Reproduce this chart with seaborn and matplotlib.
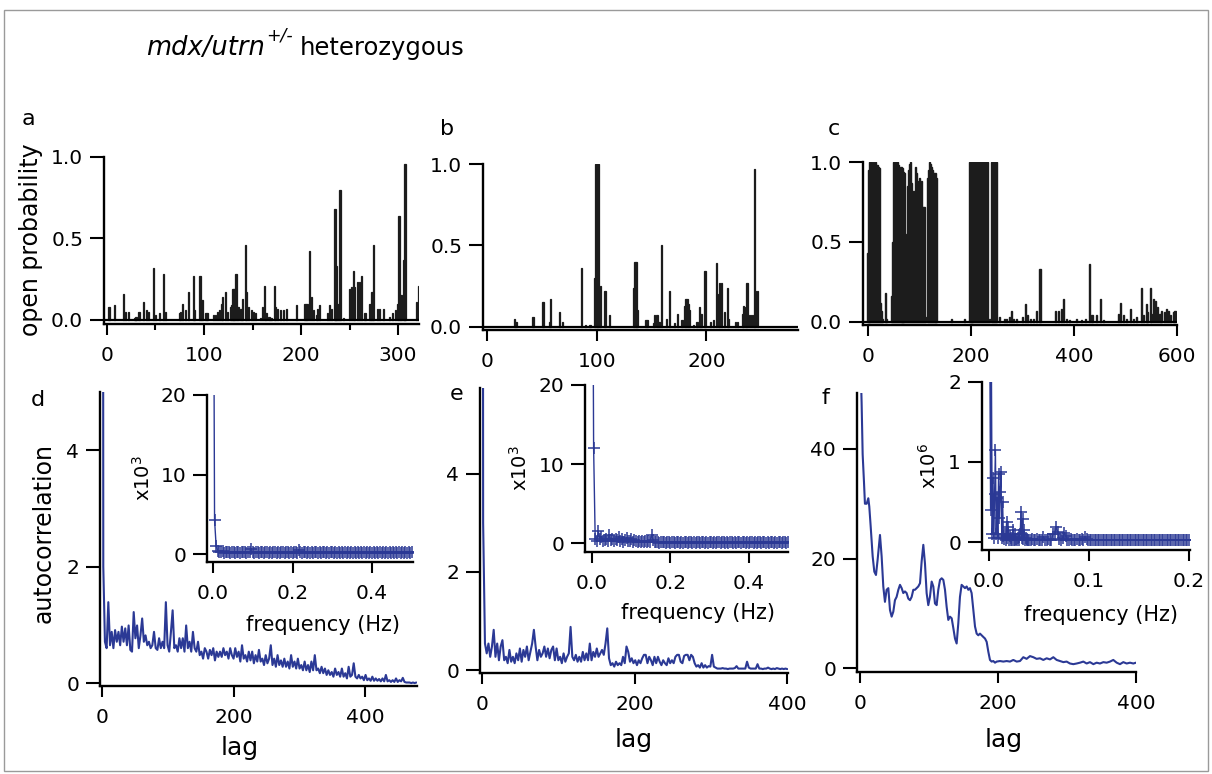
import numpy as np
import matplotlib
matplotlib.use("Agg")
import matplotlib.pyplot as plt
from matplotlib.patches import Rectangle
import seaborn as sns

# ---------------- data ----------------
# panel a: open probability per time bin
a_time = [2, 3, 8, 17, 19, 22, 29, 30, 33, 38, 41, 43, 48, 50, 54, 58, 60, 75, 76, 78, 81, 84, 89, 90,
          96, 98, 102, 104, 110, 112, 114, 116, 118, 119, 122, 124, 127, 128, 130, 131, 133, 135, 138,
          140, 143, 144, 146, 149, 151, 153, 158, 160, 162, 164, 167, 169, 173, 174, 176, 179, 182, 185,
          195, 204, 206, 209, 211, 213, 216, 217, 219, 227, 229, 231, 235, 236, 238, 240, 244, 250, 252,
          254, 255, 258, 260, 262, 266, 271, 273, 275, 279, 281, 285, 291, 294, 297, 299, 301, 303, 306,
          307, 319, 321]
a_po = [0.08, 0.08, 0.09, 0.16, 0.05, 0.05, 0.01, 0.02, 0.05, 0.11, 0.06, 0.05, 0.32, 0.03, 0.04, 0.28,
        0.05, 0.04, 0.05, 0.10, 0.06, 0.17, 0.27, 0.06, 0.27, 0.12, 0.04, 0.04, 0.03, 0.03, 0.05, 0.06,
        0.10, 0.14, 0.17, 0.05, 0.08, 0.09, 0.19, 0.19, 0.28, 0.08, 0.07, 0.13, 0.46, 0.17, 0.08, 0.06,
        0.05, 0.04, 0.01, 0.08, 0.21, 0.04, 0.02, 0.01, 0.21, 0.08, 0.07, 0.06, 0.06, 0.07, 0.09, 0.10,
        0.10, 0.42, 0.14, 0.06, 0.03, 0.07, 0.09, 0.04, 0.09, 0.07, 0.68, 0.33, 0.10, 0.80, 0.01, 0.19,
        0.20, 0.30, 0.20, 0.23, 0.23, 0.27, 0.04, 0.10, 0.17, 0.46, 0.07, 0.07, 0.07, 0.02, 0.04, 0.06,
        0.10, 0.64, 0.15, 0.37, 0.96, 0.11, 0.21]

# panel b
b_time = [25, 26.5, 42, 50.5, 51.5, 57, 58, 66, 69, 86, 89.5, 94, 97.7, 98.6, 99.5, 100.4, 101.2, 102.3,
          103.8, 106.8, 107.8, 111.4, 133.6, 135, 136, 136.8, 145, 146.4, 152, 153, 155, 156.8, 159.2,
          164, 166.2, 171, 174, 177.8, 180, 181.1, 182.3, 183.9, 184.8, 188.4, 191.5, 194, 195.1, 198.2,
          199.4, 203.7, 206.7, 209.1, 210.7, 212.2, 213.7, 216.4, 219.2, 220.4, 226.5, 228, 232.6, 233.5,
          235.9, 237.1, 239, 240.8, 242.6, 243.8, 244.7, 246.3]
b_po = [0.045, 0.03, 0.06, 0.15, 0.15, 0.03, 0.17, 0.09, 0.03, 0.36, 0.01, 0.01, 0.30, 1.0, 1.0, 1.0, 1.0,
        0.03, 0.25, 0.22, 0.22, 0.07, 0.24, 0.40, 0.40, 0.10, 0.04, 0.04, 0.02, 0.07, 0.07, 0.03, 0.50,
        0.05, 0.22, 0.02, 0.08, 0.04, 0.13, 0.17, 0.17, 0.14, 0.10, 0.01, 0.03, 0.12, 0.08, 0.34, 0.34,
        0.03, 0.04, 0.39, 0.20, 0.27, 0.27, 0.09, 0.24, 0.05, 0.03, 0.03, 0.08, 0.13, 0.12, 0.27, 0.07,
        0.07, 0.07, 0.97, 0.22, 0.22]

# panel c
c_time = [0, 2, 4, 6, 8, 10, 12, 14, 16, 18, 20, 22, 24, 26, 28, 34, 36, 46, 48, 50, 52, 54, 56, 58, 60,
          62, 64, 66, 68, 70, 72, 74, 76, 78, 80, 82, 84, 86, 88, 90, 92, 94, 96, 98, 100, 102, 104, 106,
          108, 110, 112, 116, 118, 120, 122, 124, 126, 128, 130, 132, 162, 188,
          198, 200, 202, 204, 206, 208, 210, 212, 214, 216, 218, 220, 222, 224, 226, 228, 230, 232, 234, 236,
          239, 241, 243, 245, 247, 249,
          256, 265, 269, 274, 279, 283, 289, 300, 306, 310, 315, 321, 327, 334, 364, 370, 375, 379, 386,
          392, 405, 415, 422, 430, 435, 443, 452, 457, 486, 491, 496, 502, 509, 515, 522, 531, 535, 540,
          542, 548, 551, 554, 559, 562, 567, 570, 575, 579, 583, 588, 593, 596]
c_po = [0.43, 0.95, 1.0, 1.0, 0.99, 1.0, 0.99, 1.0, 0.98, 0.98, 0.97, 0.96, 0.12, 0.07, 0.02, 0.18, 0.02,
        0.16, 0.5, 1.0, 1.0, 1.0, 1.0, 1.0, 0.98, 0.35, 0.97, 0.96, 0.94, 0.93, 0.3, 0.55, 0.85, 0.95,
        0.99, 1.0, 0.87, 0.82, 0.81, 0.82, 0.97, 0.93, 0.68, 0.88, 0.9, 0.75, 0.88, 0.72, 0.72, 0.72,
        0.03, 0.9, 0.95, 1.0, 0.99, 0.97, 0.95, 0.93, 0.93, 0.9, 0.02, 0.02,
        1.0, 1.0, 1.0, 1.0, 1.0, 1.0, 1.0, 1.0, 1.0, 1.0, 1.0, 1.0, 1.0, 1.0, 1.0, 1.0, 1.0, 1.0, 0.01, 0.02,
        1.0, 1.0, 1.0, 1.0, 1.0, 1.0,
        0.03, 0.02, 0.02, 0.03, 0.07, 0.02, 0.02, 0.03, 0.11, 0.04, 0.02, 0.02, 0.07, 0.33, 0.07, 0.07,
        0.08, 0.14, 0.02, 0.01, 0.02, 0.01, 0.02, 0.36, 0.04, 0.04, 0.14, 0.01, 0.05, 0.12, 0.04, 0.02,
        0.08, 0.02, 0.03, 0.21, 0.04, 0.11, 0.06, 0.21, 0.05, 0.14, 0.13, 0.09, 0.05, 0.07, 0.06, 0.08,
        0.07, 0.04, 0.06, 0.07]

# panel d: autocorrelation (first two lags, then evenly spaced lags 4.5 ... 478)
d_head_lag = [0, 2]
d_head_acf = [40.0, 2.0]
d_acf = [0.71, 0.6, 1.39, 0.65, 0.88, 0.6, 0.91, 0.71, 0.88, 0.65, 0.97, 0.71, 0.94, 0.65, 0.99, 0.57, 0.54,
         1.22, 0.77, 0.99, 0.6, 0.82, 1.11, 0.71, 0.82, 0.65, 0.71, 0.6, 0.65, 0.88, 0.6, 0.57, 0.77, 0.6,
         0.71, 0.6, 1.39, 0.65, 0.54, 0.88, 1.25, 0.6, 0.65, 0.54, 0.77, 0.6, 0.77, 0.54, 0.99, 0.6, 0.71,
         0.54, 0.88, 0.6, 0.54, 0.71, 0.48, 0.54, 0.42, 0.6, 0.54, 0.42, 0.57, 0.48, 0.6, 0.39, 0.54, 0.45,
         0.54, 0.45, 0.6, 0.48, 0.54, 0.42, 0.6, 0.48, 0.42, 0.6, 0.45, 0.54, 0.37, 0.65, 0.42, 0.48, 0.37,
         0.54, 0.39, 0.54, 0.34, 0.48, 0.37, 0.57, 0.37, 0.42, 0.31, 0.48, 0.34, 0.42, 0.65, 0.31, 0.42,
         0.28, 0.48, 0.31, 0.39, 0.28, 0.42, 0.28, 0.37, 0.25, 0.48, 0.28, 0.37, 0.25, 0.42, 0.25, 0.31,
         0.22, 0.37, 0.22, 0.31, 0.19, 0.37, 0.22, 0.48, 0.22, 0.25, 0.17, 0.28, 0.17, 0.25, 0.14, 0.22,
         0.14, 0.19, 0.11, 0.25, 0.14, 0.19, 0.11, 0.25, 0.11, 0.17, 0.08, 0.28, 0.11, 0.14, 0.34, 0.11,
         0.08, 0.14, 0.08, 0.11, 0.05, 0.14, 0.05, 0.08, 0.04, 0.11, 0.04, 0.08, 0.04, 0.07, 0.03, 0.08,
         0.03, 0.14, 0.03, 0.05, 0.02, 0.05, 0.02, 0.08, 0.02, 0.05, 0.03, 0.09, 0.02, 0.01, 0.01, 0.01,
         0.0, 0.01, 0.0, 0.01]

# panel e
e_head_lag = [0, 1.5]
e_head_acf = [40.0, 3.0]
e_acf = [0.54, 0.34, 0.54, 0.27, 0.48, 0.82, 0.27, 0.54, 0.2, 0.48, 0.61, 0.2, 0.27, 0.14, 0.41, 0.17, 0.27,
         0.14, 0.34, 0.2, 0.44, 0.17, 0.41, 0.27, 0.48, 0.2, 0.37, 0.54, 0.82, 0.48, 0.2, 0.41, 0.27, 0.34,
         0.48, 0.27, 0.44, 0.24, 0.41, 0.48, 0.2, 0.44, 0.2, 0.27, 0.14, 0.34, 0.17, 0.27, 0.34, 0.88, 0.27,
         0.2, 0.31, 0.17, 0.27, 0.17, 0.37, 0.2, 0.34, 0.2, 0.54, 0.2, 0.37, 0.27, 0.44, 0.27, 0.34, 0.41,
         0.31, 0.54, 0.85, 0.24, 0.1, 0.14, 0.07, 0.17, 0.1, 0.14, 0.1, 0.27, 0.14, 0.48, 0.37, 0.17, 0.24,
         0.14, 0.2, 0.1, 0.2, 0.14, 0.24, 0.31, 0.31, 0.14, 0.27, 0.2, 0.1, 0.27, 0.14, 0.27, 0.17, 0.1, 0.2,
         0.14, 0.1, 0.24, 0.14, 0.2, 0.14, 0.27, 0.31, 0.31, 0.17, 0.14, 0.29, 0.31, 0.31, 0.2, 0.31, 0.27,
         0.14, 0.07, 0.1, 0.05, 0.14, 0.05, 0.1, 0.05, 0.08, 0.07, 0.31, 0.07, 0.05, 0.03, 0.03, 0.03, 0.04,
         0.03, 0.03, 0.02, 0.03, 0.03, 0.03, 0.04, 0.08, 0.03, 0.03, 0.03, 0.03, 0.03, 0.17, 0.05, 0.03,
         0.03, 0.03, 0.03, 0.12, 0.03, 0.03, 0.02, 0.03, 0.03, 0.05, 0.03, 0.02, 0.03, 0.02, 0.04, 0.03,
         0.02, 0.03, 0.02, 0.03, 0.02]

# panel f
f_lag = [0, 2.4, 3.9, 5.8, 7.2, 9.7, 12.1, 13.5, 15.5, 18.4, 20.8, 23.2, 25.6, 29, 31.4, 33.8, 36.2, 38.6,
         41.1, 43.5, 45.9, 48.3, 50.7, 53.1, 55.6, 58, 60.4, 62.8, 65.2, 67.6, 70, 72.5, 74.9, 77.3, 79.7,
         82.1, 84.5, 87, 89.4, 91.8, 94.2, 96.6, 99, 101.4, 103.9, 106.3, 108.7, 111.1, 113.5, 116, 118.4,
         120.8, 123.2, 125.6, 128, 130.4, 132.9, 135.3, 137.7, 140.1, 142.5, 144.9, 147.3, 149.8, 152.2,
         154.6, 157, 159.4, 161.8, 164.3, 166.7, 169.1, 171.5, 173.9, 176.3, 178.7, 181.2, 183.6, 186, 188.4,
         190.8, 193.2, 195.7, 198.1, 202.9, 207.7, 212.6, 217.4, 222.2, 227.1, 231.9, 236.7, 241.5, 246.4,
         251.2, 256, 260.9, 265.7, 270.5, 275.4, 280.2, 285, 289.9, 294.7, 299.5, 304.3, 309.2, 314, 318.8,
         323.7, 328.5, 333.3, 338.2, 343, 347.8, 352.7, 357.5, 362.3, 367.1, 372, 376.8, 381.6, 386.5,
         391.3, 396.1, 400]
f_acf = [60, 48.4, 39, 34, 30, 30, 31, 29.5, 25.9, 20.4, 17.6, 17, 19.8, 24.3, 20.4, 14.9, 12.1, 14.3, 14.6,
         10.6, 9.4, 10.3, 12.4, 13, 14.3, 15.2, 14.6, 13.7, 14, 13.7, 12.7, 12.4, 13, 14.3, 14.3, 14.6, 14.9,
         15.5, 19.5, 22.5, 19.1, 13.7, 11.5, 13, 15.8, 14.9, 11.8, 11.5, 14.3, 16.1, 16.4, 16.1, 14.3, 11.2,
         8.8, 9.4, 9.1, 7.3, 5.4, 4.5, 8.2, 13, 15.2, 14.9, 14.6, 14.9, 14.3, 14.6, 13.7, 10.6, 7.6, 6.3, 6,
         6.3, 6, 5.7, 5.4, 4.8, 3, 1.5, 1.2, 1.3, 1.0, 1.2, 1.3, 1.2, 1.3, 1.2, 1.5, 1.2, 1.3, 2.0, 1.7, 2.2,
         2.0, 1.7, 1.8, 1.5, 1.8, 1.6, 2.0, 1.5, 1.3, 1.1, 1.2, 0.85, 0.73, 0.85, 1.0, 1.2, 0.85, 1.1, 0.73,
         1.0, 0.85, 1.1, 1.0, 1.2, 1.5, 1.0, 0.73, 1.1, 0.85, 1.0, 0.85, 1.0]

# insets: power spectra (evenly spaced frequencies)
d_psd = [60, 4.3, 1.0, 0.4, 0.3, 0.2, 0.35, 0.15, 0.3, 0.2, 0.25, 0.1, 0.3, 0.2, 0.15, 0.3, 0.2, 0.1, 0.25,
         0.2, 0.3, 0.15, 0.2, 0.25, 0.6, 0.2, 0.15, 0.3, 0.2, 0.1, 0.2, 0.25, 0.15, 0.3, 0.2, 0.1, 0.25,
         0.15, 0.2, 0.3, 0.15, 0.2, 0.1, 0.25, 0.2, 0.15, 0.3, 0.2, 0.15, 0.2, 0.1, 0.25, 0.2, 0.15, 0.5,
         0.2, 0.1, 0.25, 0.2, 0.15, 0.2, 0.1, 0.25, 0.15, 0.2, 0.3, 0.15, 0.2, 0.1, 0.2, 0.25, 0.15, 0.2,
         0.1, 0.25, 0.2, 0.15, 0.2, 0.1, 0.2, 0.15, 0.25, 0.1, 0.2, 0.15, 0.2, 0.1, 0.25, 0.15, 0.2, 0.1,
         0.2, 0.15, 0.25, 0.1, 0.2, 0.15, 0.2, 0.1, 0.2, 0.15, 0.25, 0.1, 0.2, 0.15, 0.2, 0.1, 0.2, 0.15,
         0.2, 0.1, 0.25, 0.15, 0.2, 0.1, 0.2, 0.15, 0.2, 0.1, 0.2, 0.15, 0.2, 0.1, 0.2, 0.15, 0.2]
e_psd = [60, 12.0, 0.6, 0.3, 1.5, 0.5, 0.8, 0.3, 0.4, 0.6, 0.3, 1.0, 0.4, 0.5, 0.3, 0.6, 0.4, 0.8, 0.3, 0.5,
         0.2, 0.4, 0.7, 0.3, 0.3, 0.5, 0.2, 0.4, 0.3, 0.2, 0.3, 0.2, 0.3, 0.2, 0.3, 0.2, 0.3, 0.2, 1.1, 0.4,
         0.2, 0.15, 0.2, 0.1, 0.2, 0.15, 0.2, 0.1, 0.2, 0.15, 0.1, 0.2, 0.15, 0.1, 0.2, 0.15, 0.1, 0.2, 0.1,
         0.15, 0.2, 0.1, 0.15, 0.2, 0.1, 0.15, 0.1, 0.2, 0.15, 0.1, 0.2, 0.15, 0.1, 0.2, 0.1, 0.15, 0.2, 0.1,
         0.15, 0.1, 0.2, 0.15, 0.1, 0.2, 0.15, 0.1, 0.2, 0.1, 0.15, 0.2, 0.1, 0.15, 0.1, 0.2, 0.15, 0.1,
         0.2, 0.15, 0.1, 0.2, 0.1, 0.15, 0.2, 0.1, 0.15, 0.1, 0.2, 0.15, 0.1, 0.2, 0.15, 0.1, 0.2, 0.1,
         0.15, 0.2, 0.1, 0.15, 0.1, 0.2, 0.15, 0.1, 0.2, 0.15, 0.1, 0.15]
# panel f inset: fine low-frequency part (0 - 0.04 Hz) and coarser remainder
f_psd_lo = [8.0, 2.5, 0.4, 2.2, 0.1, 0.8, 0.05, 0.6, 1.15, 0.1, 0.55, 0.05, 0.85, 0.3, 0.62, 0.87, 0.05,
            0.5, 0.08, 0.04, 0.1, 0.03, 0.25, 0.05, 0.19, 0.03, 0.08, 0.03, 0.05, 0.03, 0.15, 0.03, 0.1,
            0.03, 0.04, 0.02, 0.05, 0.03, 0.06, 0.1, 0.38, 0.05, 0.29, 0.04, 0.15, 0.03, 0.05, 0.02, 0.04,
            0.03, 0.03]
f_psd_hi = [0.03, 0.04, 0.03, 0.02, 0.04, 0.03, 0.02, 0.03, 0.06, 0.03, 0.02, 0.04, 0.03, 0.02, 0.1, 0.1,
            0.19, 0.12, 0.04, 0.03, 0.05, 0.11, 0.08, 0.03, 0.02, 0.04, 0.03, 0.02, 0.03, 0.04, 0.02, 0.03,
            0.04, 0.03, 0.06, 0.04, 0.03, 0.02, 0.03, 0.02, 0.03, 0.02, 0.03, 0.02, 0.03, 0.02, 0.03, 0.02,
            0.03, 0.02, 0.03, 0.02, 0.03, 0.02, 0.03, 0.02, 0.03, 0.02, 0.03, 0.02, 0.03, 0.02, 0.03, 0.02,
            0.03, 0.02, 0.03, 0.02, 0.03, 0.02, 0.03, 0.02, 0.03, 0.02, 0.03, 0.02, 0.03, 0.02, 0.03, 0.02,
            0.03, 0.02, 0.03, 0.02, 0.03, 0.02, 0.03, 0.02, 0.03, 0.02, 0.03, 0.02, 0.03, 0.02, 0.03, 0.02,
            0.03, 0.02, 0.03, 0.02]

assert len(a_time) == len(a_po) and len(b_time) == len(b_po) and len(c_time) == len(c_po)
assert len(f_lag) == len(f_acf)

d_lag = d_head_lag + list(np.linspace(4.5, 478, len(d_acf)))
d_val = d_head_acf + d_acf
e_lag = e_head_lag + list(np.linspace(3.9, 400, len(e_acf)))
e_val = e_head_acf + e_acf
d_freq = np.linspace(0, 0.5, len(d_psd))
e_freq = np.linspace(0, 0.5, len(e_psd))
f_freq = list(np.linspace(0, 0.04, len(f_psd_lo))) + list(np.linspace(0.0416, 0.2, len(f_psd_hi)))
f_psd = f_psd_lo + f_psd_hi

# ---------------- style ----------------
sns.set_theme(style="ticks")
plt.rcParams['font.family'] = ['DejaVu Sans']
plt.rcParams['mathtext.fontset'] = 'dejavusans'

W, H = 1212, 774
fig = plt.figure(figsize=(W / 100, H / 100), dpi=100)
fig.patch.set_facecolor('white')
BLUE = '#2b3995'
BAR = '#1c1c1c'
TICK_FS = 14.5


def add_box(l, r, t, b):
    ax = fig.add_axes([l / W, 1 - b / H, (r - l) / W, (b - t) / H])
    ax.set_facecolor('none')
    return ax


def style(ax, xlim, ylim, xt, xl, yt, yl, minor=None):
    ax.set_xlim(*xlim)
    ax.set_ylim(*ylim)
    for s in ('top', 'right'):
        ax.spines[s].set_visible(False)
    for s in ('left', 'bottom'):
        ax.spines[s].set_linewidth(1.7)
        ax.spines[s].set_color('black')
    ax.set_xticks(xt)
    ax.set_xticklabels(xl)
    ax.set_yticks(yt)
    ax.set_yticklabels(yl)
    if minor is not None:
        ax.set_xticks(minor, minor=True)
        ax.tick_params(axis='x', which='minor', direction='out', length=4.5, width=1.5, color='black')
    ax.tick_params(axis='x', which='major', direction='out', length=8, width=1.5, pad=8,
                   labelsize=TICK_FS, color='black', labelcolor='black')
    ax.tick_params(axis='y', which='major', direction='out', length=10, width=1.5, pad=5,
                   labelsize=TICK_FS, color='black', labelcolor='black')
    ax.set_xlabel('')
    ax.set_ylabel('')
    ax.grid(False)


def ftext(x, y, s, **kw):
    kw.setdefault('ha', 'center')
    kw.setdefault('va', 'center')
    kw.setdefault('color', 'black')
    return fig.text(x / W, 1 - y / H, s, **kw)


def bar_panel(ax, x, y, width, lw):
    ax.bar(x, y, width=width, color=BAR, edgecolor=BAR, linewidth=lw, align='center')
    ax.axhline(0, color='black', lw=1.6, zorder=3)


def spectrum(ax, x, y):
    sns.lineplot(x=x, y=y, ax=ax, color=BLUE, lw=1.0, marker='+', markersize=8,
                 markeredgecolor=BLUE, markeredgewidth=1.1, estimator=None, sort=False, legend=False)


def acf_line(ax, x, y):
    sns.lineplot(x=x, y=y, ax=ax, color=BLUE, lw=1.5, estimator=None, sort=False, legend=False)


# ---- panel a ----
ax_a = add_box(104, 419, 157, 324)
bar_panel(ax_a, a_time, a_po, 1.3, 0.9)
style(ax_a, (-3, 321.5), (-0.025, 1.0), [0, 100, 200, 300], ['0', '100', '200', '300'],
      [0, 0.5, 1.0], ['0.0', '0.5', '1.0'], minor=[50, 150, 250])

# ---- panel b ----
ax_b = add_box(483, 798, 164, 330)
bar_panel(ax_b, b_time, b_po, 1.1, 0.9)
style(ax_b, (-3.6, 283.5), (-0.02, 1.0), [0, 100, 200], ['0', '100', '200'],
      [0, 0.5, 1.0], ['0.0', '0.5', '1.0'])

# ---- panel c ----
ax_c = add_box(863, 1177, 162, 325)
bar_panel(ax_c, c_time, c_po, 2.2, 1.0)
style(ax_c, (-9.7, 600), (-0.02, 1.0), [0, 200, 400, 600], ['0', '200', '400', '600'],
      [0, 0.5, 1.0], ['0.0', '0.5', '1.0'])

# ---- panel d ----
ax_d = add_box(100, 417, 392, 686)
acf_line(ax_d, d_lag, d_val)
style(ax_d, (-3, 479), (-0.05, 5.0), [0, 200, 400], ['0', '200', '400'], [0, 2, 4], ['0', '2', '4'])

ax_di = add_box(207, 413, 395, 562)
spectrum(ax_di, d_freq, d_psd)
style(ax_di, (-0.015, 0.503), (-1.0, 20), [0, 0.2, 0.4], ['0.0', '0.2', '0.4'],
      [0, 10, 20], ['0', '10', '20'])

# ---- panel e ----
ax_e = add_box(480, 788, 388, 673)
acf_line(ax_e, e_lag, e_val)
style(ax_e, (-2.6, 401), (-0.06, 5.75), [0, 200, 400], ['0', '200', '400'], [0, 2, 4], ['0', '2', '4'])

ax_ei = add_box(585, 788, 385, 552)
spectrum(ax_ei, e_freq, e_psd)
style(ax_ei, (-0.018, 0.5), (-1.1, 20), [0, 0.2, 0.4], ['0.0', '0.2', '0.4'],
      [0, 10, 20], ['0', '10', '20'])

# ---- panel f ----
ax_f = add_box(857, 1136, 393, 672)
acf_line(ax_f, f_lag, f_acf)
style(ax_f, (-4.3, 400), (-0.7, 50.2), [0, 200, 400], ['0', '200', '400'], [0, 20, 40], ['0', '20', '40'])

ax_fi = add_box(982, 1190, 382, 550)
spectrum(ax_fi, f_freq, f_psd)
style(ax_fi, (-0.007, 0.201), (-0.1, 2.0), [0, 0.1, 0.2], ['0.0', '0.1', '0.2'],
      [0, 1, 2], ['0', '1', '2'])

# ---------------- texts ----------------
ftext(31, 240, 'open probability', rotation=90, fontsize=17)
ftext(44, 533, 'autocorrelation', rotation=90, fontsize=17)
for x, y in [(240, 748), (634, 740), (1004, 740)]:
    ftext(x, y, 'lag', fontsize=18)
for x, y in [(323, 625), (698, 613), (1101, 615)]:
    ftext(x, y, 'frequency (Hz)', fontsize=15)
ftext(143, 478, r'x10$^{3}$', rotation=90, fontsize=14)
ftext(520, 468, r'x10$^{3}$', rotation=90, fontsize=14)
ftext(929, 466, r'x10$^{6}$', rotation=90, fontsize=14)

for x, y, s in [(28, 119, 'a'), (447, 129, 'b'), (834, 129, 'c'),
                (38, 400, 'd'), (457, 394, 'e'), (825, 398, 'f')]:
    ftext(x, y, s, fontsize=16)

# title made of pieces
fig.canvas.draw()
rend = fig.canvas.get_renderer()
x0, base = 146, 55
t1 = fig.text(x0 / W, 1 - base / H, 'mdx/utrn', style='italic', fontsize=18.5, va='baseline',
              ha='left', color='black')
bb = t1.get_window_extent(rend)
t2 = fig.text((bb.x1 + 1) / W, 1 - (base - 15) / H, '+/-', style='italic',
              fontsize=12.5, va='baseline', ha='left', color='black')
bb2 = t2.get_window_extent(rend)
fig.text((bb2.x1 + 7) / W, 1 - base / H, 'heterozygous', fontsize=17.5, va='baseline', ha='left',
         color='black')

# frame around the figure
fig.add_artist(Rectangle((4 / W, 1 - 771 / H), 1204 / W, 761 / H, transform=fig.transFigure,
                         fill=False, edgecolor='#9a9a9a', lw=1.0))

fig.savefig('out.png', dpi=100, facecolor='white')
